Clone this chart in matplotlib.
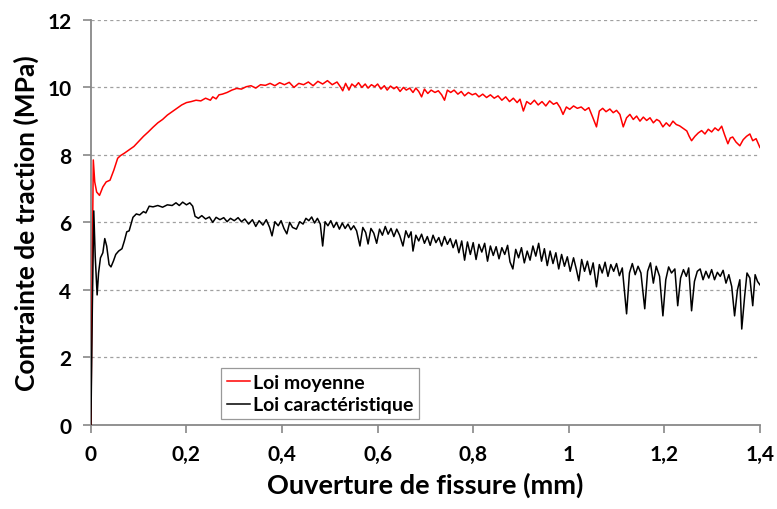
import matplotlib
matplotlib.use('Agg')
import matplotlib.pyplot as plt
from matplotlib.ticker import FuncFormatter

plt.rcParams['font.family'] = ['Lato', 'DejaVu Sans']

# Loi moyenne (red)
moy_x = [0.000, 0.003, 0.005, 0.008, 0.012, 0.018, 0.025, 0.032, 0.040, 0.048,
         0.056, 0.062, 0.070, 0.080, 0.090, 0.100, 0.110, 0.120, 0.130, 0.140,
         0.150, 0.160, 0.170, 0.180, 0.190, 0.200, 0.210, 0.220, 0.230, 0.240,
         0.250, 0.255, 0.262, 0.268, 0.275, 0.285, 0.295, 0.305, 0.315, 0.325,
         0.335, 0.345, 0.355, 0.365, 0.375, 0.385, 0.395, 0.405, 0.415, 0.425,
         0.435, 0.445, 0.455, 0.465, 0.475, 0.485, 0.495, 0.505, 0.515, 0.522,
         0.527, 0.533, 0.540, 0.546, 0.553, 0.560, 0.567, 0.574, 0.580, 0.587,
         0.594, 0.600, 0.607, 0.614, 0.620, 0.627, 0.634, 0.640, 0.647, 0.654,
         0.660, 0.667, 0.674, 0.680, 0.686, 0.692, 0.698, 0.705, 0.712, 0.720,
         0.727, 0.734, 0.740, 0.746, 0.753, 0.760, 0.768, 0.775, 0.782, 0.790,
         0.798, 0.805, 0.812, 0.820, 0.828, 0.836, 0.844, 0.852, 0.860, 0.868,
         0.876, 0.884, 0.892, 0.898, 0.905, 0.912, 0.920, 0.928, 0.936, 0.944,
         0.952, 0.960, 0.968, 0.975, 0.982, 0.988, 0.995, 1.002, 1.010, 1.018,
         1.026, 1.034, 1.042, 1.050, 1.058, 1.064, 1.071, 1.078, 1.086, 1.093,
         1.100, 1.107, 1.114, 1.121, 1.128, 1.135, 1.142, 1.149, 1.156, 1.163,
         1.170, 1.177, 1.184, 1.190, 1.197, 1.204, 1.211, 1.218, 1.225, 1.232,
         1.240, 1.247, 1.252, 1.257, 1.264, 1.271, 1.278, 1.285, 1.292, 1.299,
         1.306, 1.313, 1.320, 1.326, 1.333, 1.338, 1.343, 1.350, 1.358, 1.365,
         1.372, 1.379, 1.385, 1.392, 1.400]
moy_y = [0.00, 5.00, 7.85, 7.20, 6.90, 6.80, 7.05, 7.20, 7.25, 7.55,
         7.90, 7.98, 8.05, 8.15, 8.25, 8.40, 8.55, 8.68, 8.82, 8.95,
         9.05, 9.18, 9.28, 9.38, 9.48, 9.55, 9.58, 9.62, 9.60, 9.68,
         9.62, 9.72, 9.66, 9.78, 9.80, 9.85, 9.92, 9.97, 9.95, 10.02,
         10.05, 9.98, 10.08, 10.06, 10.12, 10.05, 10.14, 10.08, 10.15, 10.00,
         10.12, 10.08, 10.16, 10.05, 10.18, 10.10, 10.20, 10.08, 10.16, 10.02,
         9.90, 10.12, 9.92, 10.10, 10.02, 10.14, 10.00, 10.10, 9.98, 10.08,
         10.02, 10.10, 9.95, 10.05, 9.92, 10.04, 9.96, 10.02, 9.88, 10.00,
         9.92, 9.98, 9.85, 9.98, 9.88, 9.72, 9.95, 9.82, 9.92, 9.85,
         9.90, 9.78, 9.62, 9.92, 9.85, 9.92, 9.80, 9.88, 9.75, 9.85,
         9.78, 9.82, 9.72, 9.80, 9.70, 9.78, 9.68, 9.75, 9.62, 9.72,
         9.58, 9.68, 9.55, 9.65, 9.30, 9.58, 9.50, 9.62, 9.48, 9.58,
         9.45, 9.60, 9.50, 9.55, 9.40, 9.20, 9.42, 9.35, 9.45, 9.38,
         9.42, 9.32, 9.40, 9.12, 8.83, 9.30, 9.38, 9.28, 9.36, 9.25,
         9.32, 9.20, 8.83, 9.10, 9.20, 9.05, 9.15, 9.00, 9.12, 9.02,
         9.10, 8.95, 9.05, 9.00, 8.83, 8.95, 8.85, 9.00, 8.90, 8.86,
         8.78, 8.71, 8.55, 8.42, 8.55, 8.65, 8.72, 8.62, 8.76, 8.68,
         8.80, 8.72, 8.85, 8.60, 8.33, 8.50, 8.53, 8.38, 8.27, 8.45,
         8.55, 8.62, 8.42, 8.48, 8.22]

# Loi caracteristique (black)
car_x = [0.000, 0.003, 0.006, 0.009, 0.013, 0.016, 0.020, 0.025, 0.029, 0.033,
         0.038, 0.042, 0.047, 0.052, 0.058, 0.065, 0.070, 0.075, 0.080, 0.088,
         0.095, 0.102, 0.110, 0.115, 0.122, 0.130, 0.140, 0.150, 0.160, 0.170,
         0.178, 0.185, 0.192, 0.200, 0.207, 0.213, 0.218, 0.225, 0.232, 0.240,
         0.248, 0.255, 0.262, 0.270, 0.278, 0.285, 0.292, 0.300, 0.308, 0.315,
         0.322, 0.330, 0.338, 0.345, 0.352, 0.360, 0.367, 0.374, 0.379, 0.385,
         0.392, 0.398, 0.404, 0.410, 0.416, 0.422, 0.430, 0.437, 0.444, 0.450,
         0.456, 0.462, 0.468, 0.474, 0.480, 0.485, 0.490, 0.496, 0.502, 0.508,
         0.514, 0.520, 0.526, 0.532, 0.538, 0.544, 0.550, 0.556, 0.563, 0.569,
         0.575, 0.580, 0.586, 0.592, 0.598, 0.604, 0.610, 0.616, 0.622, 0.628,
         0.634, 0.640, 0.646, 0.653, 0.659, 0.665, 0.670, 0.674, 0.680, 0.686,
         0.692, 0.698, 0.704, 0.710, 0.716, 0.722, 0.728, 0.734, 0.740, 0.746,
         0.752, 0.758, 0.764, 0.770, 0.776, 0.782, 0.788, 0.794, 0.800, 0.806,
         0.812, 0.818, 0.824, 0.830, 0.836, 0.842, 0.848, 0.854, 0.860, 0.866,
         0.872, 0.877, 0.883, 0.889, 0.895, 0.901, 0.907, 0.913, 0.919, 0.925,
         0.931, 0.937, 0.943, 0.949, 0.955, 0.961, 0.967, 0.973, 0.979, 0.985,
         0.991, 0.997, 1.003, 1.010, 1.016, 1.021, 1.027, 1.033, 1.039, 1.045,
         1.051, 1.058, 1.064, 1.070, 1.076, 1.082, 1.088, 1.094, 1.100, 1.106,
         1.112, 1.121, 1.127, 1.133, 1.139, 1.145, 1.151, 1.159, 1.165, 1.171,
         1.177, 1.183, 1.190, 1.197, 1.203, 1.209, 1.215, 1.222, 1.228, 1.234,
         1.240, 1.246, 1.251, 1.257, 1.263, 1.269, 1.275, 1.281, 1.287, 1.293,
         1.299, 1.305, 1.311, 1.317, 1.323, 1.329, 1.335, 1.341, 1.347, 1.353,
         1.358, 1.362, 1.368, 1.373, 1.379, 1.385, 1.390, 1.395, 1.400]
car_y = [0.00, 3.50, 6.34, 5.00, 3.85, 4.50, 4.95, 5.10, 5.52, 5.30,
         4.75, 4.68, 4.85, 5.05, 5.15, 5.22, 5.45, 5.72, 5.75, 6.15,
         6.25, 6.22, 6.32, 6.28, 6.48, 6.46, 6.50, 6.45, 6.52, 6.50,
         6.58, 6.50, 6.60, 6.52, 6.58, 6.48, 6.18, 6.12, 6.20, 6.10,
         6.16, 6.00, 6.15, 6.08, 6.14, 6.02, 6.12, 6.05, 6.14, 6.02,
         6.10, 5.95, 6.08, 5.88, 6.05, 5.92, 6.08, 5.85, 5.60, 6.02,
         5.90, 6.05, 5.82, 5.66, 6.00, 5.85, 5.80, 6.02, 5.95, 6.12,
         6.05, 6.16, 5.98, 6.12, 5.95, 5.30, 6.02, 5.90, 6.05, 5.85,
         6.00, 5.80, 5.98, 5.82, 5.95, 5.78, 5.90, 5.75, 5.30, 5.85,
         5.70, 5.36, 5.82, 5.68, 5.38, 5.80, 5.62, 5.88, 5.65, 5.82,
         5.58, 5.80, 5.62, 5.30, 5.75, 5.55, 5.72, 5.15, 5.62, 5.45,
         5.65, 5.38, 5.58, 5.32, 5.62, 5.40, 5.55, 5.30, 5.58, 5.35,
         5.52, 5.25, 5.48, 5.10, 5.45, 4.88, 5.42, 5.05, 5.40, 4.90,
         5.35, 5.12, 5.38, 4.85, 5.30, 5.02, 5.28, 4.92, 5.25, 5.05,
         5.32, 4.83, 4.62, 5.20, 4.95, 5.25, 4.80, 5.15, 4.88, 5.30,
         5.00, 5.38, 4.85, 5.22, 4.72, 5.15, 4.78, 5.10, 4.62, 5.05,
         4.70, 4.98, 4.55, 4.95, 4.60, 4.27, 4.90, 4.55, 4.85, 4.45,
         4.80, 4.09, 4.75, 4.50, 4.82, 4.40, 4.75, 4.55, 4.78, 4.42,
         4.65, 3.29, 4.50, 4.78, 4.45, 4.70, 4.50, 3.44, 4.55, 4.80,
         4.20, 4.70, 4.40, 3.23, 4.30, 4.68, 4.50, 4.62, 3.53, 4.35,
         4.60, 4.40, 4.65, 3.38, 4.25, 4.55, 4.62, 4.30, 4.55, 4.35,
         4.60, 4.30, 4.52, 4.40, 4.58, 4.20, 4.45, 4.10, 3.23, 4.00,
         4.30, 2.84, 3.80, 4.50, 4.35, 3.53, 4.45, 4.25, 4.15]

x_ticks = [0, 0.2, 0.4, 0.6, 0.8, 1.0, 1.2, 1.4]
y_ticks = [0, 2, 4, 6, 8, 10, 12]

fig = plt.figure(figsize=(7.77, 5.10), dpi=100)
ax = fig.add_axes([0.117, 0.165, 0.861, 0.794])

ax.plot(moy_x, moy_y, color='#ff0000', lw=1.1, label='Loi moyenne', zorder=3)
ax.plot(car_x, car_y, color='#000000', lw=1.1, label='Loi caractéristique', zorder=3)

ax.set_xlim(0, 1.4)
ax.set_ylim(0, 12)
ax.set_xticks(x_ticks)
ax.set_yticks(y_ticks)

def comma(v, pos):
    s = ('%.1f' % v).rstrip('0').rstrip('.')
    return s.replace('.', ',')

ax.xaxis.set_major_formatter(FuncFormatter(comma))
ax.yaxis.set_major_formatter(FuncFormatter(comma))

for yv in y_ticks[1:]:
    ax.axhline(yv, color='#a0a0a0', lw=0.9, ls=(0, (2.5, 2.5)), zorder=1)

for s in ['top', 'right']:
    ax.spines[s].set_visible(False)
for s in ['left', 'bottom']:
    ax.spines[s].set_color('#888888')
    ax.spines[s].set_linewidth(1.3)

ax.tick_params(axis='both', direction='out', length=6, width=1.2, color='#888888',
               labelsize=15, pad=8)
for lab in ax.get_xticklabels() + ax.get_yticklabels():
    lab.set_fontweight('bold')

ax.set_xlabel('Ouverture de fissure (mm)', fontsize=19.5, fontweight='bold', labelpad=5)
ax.set_ylabel('Contrainte de traction (MPa)', fontsize=19, fontweight='bold', labelpad=6)

leg = ax.legend(loc='upper left', bbox_to_anchor=(0.18, 0.165),
                prop={'weight': 'bold', 'size': 14}, handlelength=1.2, handletextpad=0.15,
                borderpad=0.3, labelspacing=0.3, fancybox=False, framealpha=1)
leg.get_frame().set_edgecolor('#999999')
leg.get_frame().set_linewidth(0.9)

fig.savefig('out.png', dpi=100)
